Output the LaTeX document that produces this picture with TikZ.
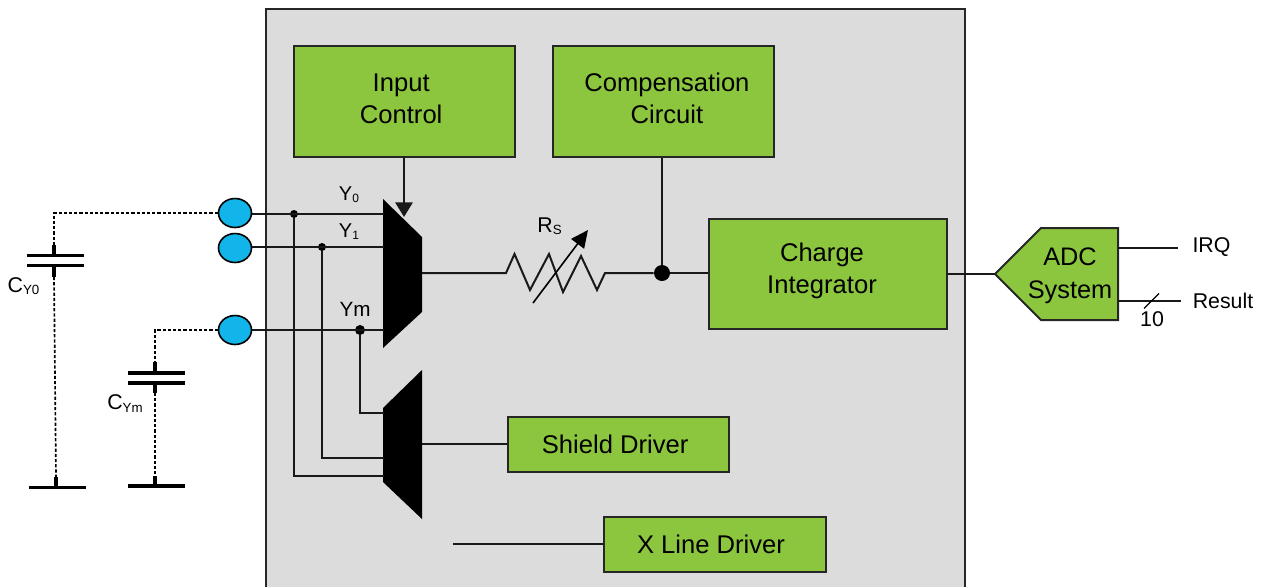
\documentclass[tikz,border=0pt]{standalone}
\usepackage{fontspec}
\setmainfont{Liberation Sans}
\usetikzlibrary{shapes.geometric,arrows.meta}
\newcommand{\fs}[2]{\fontsize{#1}{#2}\selectfont}
\newcommand{\lowsub}[1]{\raisebox{-1.6pt}{\fs{10}{10}#1}}
\tikzset{
  greenbox/.style={draw=black!85,line width=1.5pt,fill=chipgreen,rectangle,inner sep=0pt},
  lbl/.style={inner sep=0pt,align=center,font=\fs{19.2}{24},text=black},
  small/.style={inner sep=0pt,font=\fs{16}{20},text=black},
  port/.style={ellipse,draw=black,line width=1.2pt,fill=portblue,minimum width=33*.75pt,minimum height=29*.75pt,inner sep=0pt},
  wire/.style={line width=1.5pt,draw=black!90},
  dotline/.style={line width=1.25pt,dash pattern=on 2.4pt off 1.5pt,draw=black},
  plate/.style={line width=2.7pt,draw=black},
  jct/.style={circle,fill=black,inner sep=0pt},
  muxshape/.style={fill=black,draw=none}
}
\definecolor{chipgreen}{HTML}{8CC63F}
\definecolor{portblue}{HTML}{12B5EA}
\definecolor{chipgray}{HTML}{DCDCDC}
\begin{document}
\begin{tikzpicture}[x=.75pt,y=-.75pt]
\useasboundingbox (0,0) rectangle (1267,587);
% chip body
\path[fill=chipgray] (266,9) rectangle (965,587);
\draw[line width=1.4pt,black!85] (266,587) -- (266,9) -- (965,9) -- (965,587);
% blocks
\node[greenbox,minimum width=221*.75pt,minimum height=111*.75pt,label={[lbl,xshift=-2.5pt,yshift=2.2pt]center:Input\\Control}] (input) at (404.5,101.5) {};
\node[greenbox,minimum width=221*.75pt,minimum height=111*.75pt,label={[lbl,xshift=2.6pt,yshift=2.2pt]center:Compensation\\Circuit}] (comp) at (663.5,101.5) {};
\node[greenbox,minimum width=238*.75pt,minimum height=110*.75pt,label={[lbl,xshift=-4.5pt,yshift=2.7pt]center:Charge\\Integrator}] (charge) at (828,274) {};
\node[greenbox,minimum width=221*.75pt,minimum height=55*.75pt,label={[lbl,xshift=-2.5pt]center:Shield Driver}] (shield) at (618.5,444.5) {};
\node[greenbox,minimum width=222*.75pt,minimum height=55*.75pt,label={[lbl,xshift=-3pt]center:X Line Driver}] (xline) at (715,544.5) {};
% ADC
\coordinate (adcin) at (995,274);
\coordinate (adcirq) at (1118,248);
\coordinate (adcres) at (1118,301);
\draw[greenbox] (adcin) -- (1041,228) -- (1118,228) -- (1118,320) -- (1041,320) -- cycle;
\node[lbl,font=\fs{19}{24.5}] (adc) at (1070,275.5) {ADC\\System};
\node[small] (irq) at (1211.5,247.5) {IRQ};
\node[small] (result) at (1223,301) {Result};
\node[small] (ten) at (1152,319.5) {10};
\coordinate (irqend) at (1178,248);
\coordinate (resend) at (1181,301);
\draw[wire] (adcirq) -- (irqend);
\draw[wire] (adcres) -- (resend);
\draw[line width=1pt] (1144,308.5) -- (1159,293.5);
\draw[wire] (charge.east) -- (adcin);
% muxes
\draw[muxshape] (383,199) -- (422,237) -- (422,312) -- (383,348) -- cycle;
\draw[muxshape] (383,408) -- (422,370) -- (422,519) -- (383,482) -- cycle;
\coordinate (m1out) at (422,273);
\coordinate (m2out) at (422,444);
\coordinate (m1y0) at (384,214);
\coordinate (m1y1) at (384,247);
\coordinate (m1ym) at (384,330);
\coordinate (m2ym) at (384,413);
\coordinate (m2y1) at (384,458);
\coordinate (m2y0) at (384,476);
% ports
\node[port] (p0) at (235,213) {};
\node[port] (p1) at (235,248) {};
\node[port] (pm) at (235,330) {};
% junctions
\node[jct,minimum size=8*.75pt] (j0) at (294,214) {};
\node[jct,minimum size=8*.75pt] (j1) at (322,247) {};
\node[jct,minimum size=10*.75pt] (jm) at (360,330) {};
\node[jct,minimum size=16*.75pt] (jr) at (662,273) {};
% wiring
\draw[wire] (p0.east |- m1y0) -- (m1y0);
\draw[wire] (p1.east |- m1y1) -- (m1y1);
\draw[wire] (pm.east |- m1ym) -- (m1ym);
\draw[wire] (j0) |- (m2y0);
\draw[wire] (j1) |- (m2y1);
\draw[wire] (jm) |- (m2ym);
\draw[wire] (m2out) -- (shield.west |- m2out);
\coordinate (xstub) at (453,544);
\draw[wire] (xstub) -- (xline.west |- xstub);
\draw[wire,-{Triangle[length=11pt,width=13pt]}] (404,157) -- (404,217);
\draw[wire] (jr.center |- comp.south) -- (jr);
% resistor
\draw[wire,line join=miter] (m1out) -- (506,273) -- (514.5,254) -- (530,290) -- (549,254) -- (563,292) -- (581,256) -- (597,290) -- (605,273) -- (jr);
\draw[wire] (jr) -- (charge.west |- jr);
\draw[line width=1.2pt,-{Triangle[length=13pt,width=12pt]}] (533,303) -- (588,230);
\node[small] (rs) at (549.5,226) {R\lowsub{S}};
% labels
\node[small,font=\fs{15}{18}] (ly0) at (349,194.5) {Y\raisebox{-1.6pt}{\fs{9}{9}0}};
\node[small,font=\fs{15}{18}] (ly1) at (349,231.5) {Y\raisebox{-1.6pt}{\fs{9}{9}1}};
\node[small,font=\fs{15.5}{18}] (lym) at (355,309.5) {Ym};
\node[small] (cy0l) at (23.5,286) {C\lowsub{Y0}};
\node[small] (cyml) at (125,403.5) {C\lowsub{Ym}};
% external capacitors
\coordinate (c0t) at (54,245);
\coordinate (c0b) at (54,277);
\coordinate (g0) at (56,477);
\coordinate (cmt) at (155,362);
\coordinate (cmb) at (155,393);
\coordinate (gm) at (155,476);
\draw[dotline] (p0.west) -| (c0t);
\draw[dotline] (c0b) -- (g0);
\draw[dotline] (pm.west) -| (cmt);
\draw[dotline] (cmb) -- (gm);
\draw[plate] (27,255.5) -- (84,255.5);
\draw[plate] (27,265.5) -- (84,265.5);
\draw[plate] (c0t) -- (54,255.5);
\draw[plate] (54,265.5) -- (c0b);
\draw[plate] (128,373) -- (185,373);
\draw[plate] (128,383) -- (185,383);
\draw[plate] (cmt) -- (155,373);
\draw[plate] (155,383) -- (cmb);
\draw[plate] (29,487.5) -- (86,487.5);
\draw[plate] (g0) -- (56,487.5);
\draw[plate] (128,486) -- (185,486);
\draw[plate] (gm) -- (155,486);
\end{tikzpicture}
\end{document}
